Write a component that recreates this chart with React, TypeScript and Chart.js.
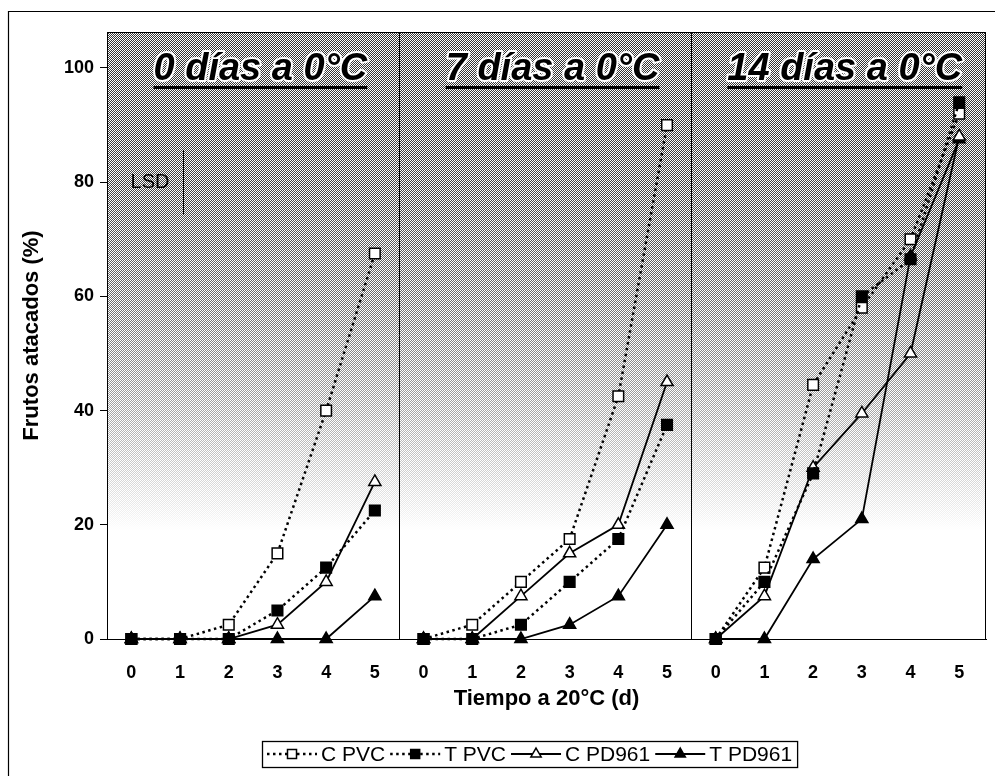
import React, { useEffect, useRef } from 'react';
import { Chart, registerables } from 'chart.js';

Chart.register(...registerables);

// ---------- data ----------
const dayTicks = ['0', '1', '2', '3', '4', '5'];
const panelTitles = ['0 días a 0°C', '7 días a 0°C', '14 días a 0°C'];
const seriesNames = ['C PVC', 'T PVC', 'C PD961', 'T PD961'];
const yTicks = [0, 20, 40, 60, 80, 100];

// values per panel (0, 7, 14 días a 0°C), days 0..5 at 20°C
const cPVC = [
  [0, 0, 2.5, 15, 40, 67.5],
  [0, 2.5, 10, 17.5, 42.5, 90],
  [0, 12.5, 44.5, 58, 70, 92],
];
const tPVC = [
  [0, 0, 0, 5, 12.5, 22.5],
  [0, 0, 2.5, 10, 17.5, 37.5],
  [0, 10, 29, 60, 66.5, 94],
];
const cPD961 = [
  [0, 0, 0, 2.5, 10, 27.5],
  [0, 0, 7.5, 15, 20, 45],
  [0, 7.5, 30, 39.5, 50, 88],
];
const tPD961 = [
  [0, 0, 0, 0, 0, 7.5],
  [0, 0, 0, 2.5, 7.5, 20],
  [0, 0, 14, 21, 67, 87.5],
];
const lsdCenter = 80;
const lsdValue = 11.3;

const FAMILY = '"Liberation Sans", Arial, Helvetica, sans-serif';
const N = dayTicks.length;

const toPoints = (panels: number[][]) =>
  panels.flatMap((vals, p) => {
    const pts: { x: number; y: number | null }[] = vals.map((v, i) => ({ x: p * N + i, y: v }));
    if (p < panels.length - 1) pts.push({ x: p * N + N - 0.5, y: null });
    return pts;
  });

function drawMarker(ctx: CanvasRenderingContext2D, style: string, x: number, y: number, r: number, fill: string) {
  ctx.save();
  ctx.setLineDash([]);
  ctx.beginPath();
  if (style === 'rect') {
    const s = Math.SQRT1_2 * r;
    ctx.rect(x - s, y - s, 2 * s, 2 * s);
  } else {
    ctx.moveTo(x, y - r);
    ctx.lineTo(x + r * Math.sin(2 * Math.PI / 3), y + r / 2);
    ctx.lineTo(x - r * Math.sin(2 * Math.PI / 3), y + r / 2);
    ctx.closePath();
  }
  ctx.fillStyle = fill;
  ctx.fill();
  ctx.lineWidth = 1.5;
  ctx.strokeStyle = '#000';
  ctx.stroke();
  ctx.restore();
}

const backgroundPlugin = {
  id: 'bgStipple',
  beforeDraw(chart: any) {
    const { ctx, chartArea: a } = chart;
    const ys = chart.scales.y;
    ctx.save();
    ctx.fillStyle = '#fff';
    ctx.fillRect(0, 0, chart.width, chart.height);
    const w = Math.round(a.right - a.left);
    const h = Math.round(a.bottom - a.top);
    const off = document.createElement('canvas');
    off.width = w;
    off.height = h;
    const oc = off.getContext('2d')!;
    const pat = document.createElement('canvas');
    pat.width = 2;
    pat.height = 2;
    const pc = pat.getContext('2d')!;
    pc.fillStyle = '#000';
    pc.fillRect(0, 0, 1, 1);
    pc.fillRect(1, 1, 1, 1);
    oc.fillStyle = oc.createPattern(pat, 'repeat')!;
    oc.fillRect(0, 0, w, h);
    oc.globalCompositeOperation = 'destination-in';
    const g = oc.createLinearGradient(0, 0, 0, h);
    const stop = (v: number, alpha: number) => {
      const f = (ys.getPixelForValue(v) - a.top) / h;
      g.addColorStop(Math.min(1, Math.max(0, f)), `rgba(0,0,0,${alpha})`);
    };
    stop(ys.max, 0.8);
    stop(80, 0.74);
    stop(60, 0.58);
    stop(42, 0.38);
    stop(30, 0.2);
    stop(19, 0.0);
    stop(0, 0.0);
    oc.fillStyle = g;
    oc.fillRect(0, 0, w, h);
    ctx.drawImage(off, Math.round(a.left), Math.round(a.top));

    // outer frame (extends beyond the picture at right/bottom)
    ctx.strokeStyle = '#000';
    ctx.lineWidth = 1.2;
    ctx.beginPath();
    ctx.moveTo(8.5, chart.height + 5);
    ctx.lineTo(8.5, 11.5);
    ctx.lineTo(chart.width + 5, 11.5);
    ctx.stroke();
    ctx.restore();
  },
  beforeDatasetsDraw(chart: any) {
    const { ctx, chartArea: a } = chart;
    const xs = chart.scales.x;
    const ys = chart.scales.y;
    ctx.save();
    ctx.strokeStyle = '#000';
    ctx.lineWidth = 1;
    // plot border top/right
    ctx.beginPath();
    ctx.moveTo(a.left, a.top + 0.5);
    ctx.lineTo(a.right - 0.5, a.top + 0.5);
    ctx.lineTo(a.right - 0.5, a.bottom);
    ctx.stroke();
    // panel dividers
    for (let p = 1; p < panelTitles.length; p++) {
      const px = Math.round(xs.getPixelForValue(p * N - 0.5)) + 0.5;
      ctx.beginPath();
      ctx.moveTo(px, a.top);
      ctx.lineTo(px, a.bottom);
      ctx.stroke();
    }
    // panel titles
    ctx.font = `italic bold 38px ${FAMILY}`;
    ctx.textAlign = 'center';
    ctx.textBaseline = 'alphabetic';
    ctx.lineJoin = 'round';
    panelTitles.forEach((t, p) => {
      const cx = xs.getPixelForValue(p * N + 2.65);
      const by = a.top + 48;
      ctx.lineWidth = 4;
      ctx.strokeStyle = '#fff';
      ctx.strokeText(t, cx, by);
      ctx.fillStyle = '#000';
      ctx.fillText(t, cx, by);
      const tw = ctx.measureText(t).width;
      ctx.fillRect(cx - tw / 2, by + 6, tw, 3);
    });
    // LSD bar
    const lx = Math.round(xs.getPixelForValue(1.07)) + 0.5;
    ctx.lineWidth = 1;
    ctx.strokeStyle = '#000';
    ctx.beginPath();
    ctx.moveTo(lx, ys.getPixelForValue(lsdCenter + lsdValue / 2));
    ctx.lineTo(lx, ys.getPixelForValue(lsdCenter - lsdValue / 2));
    ctx.stroke();
    ctx.font = `20px ${FAMILY}`;
    ctx.textAlign = 'right';
    ctx.textBaseline = 'middle';
    ctx.fillStyle = '#000';
    ctx.fillText('LSD', lx - 14, ys.getPixelForValue(lsdCenter));
    ctx.restore();
  },
};

const legendPlugin = {
  id: 'customLegend',
  afterDraw(chart: any) {
    const { ctx } = chart;
    const boxL = 262;
    const boxT = 741;
    const boxH = 26;
    const cy = boxT + boxH / 2;
    ctx.save();
    ctx.font = `21px ${FAMILY}`;
    ctx.textBaseline = 'middle';
    ctx.textAlign = 'left';
    let x = boxL + 5;
    const sampleW = 50;
    chart.data.datasets.forEach((ds: any) => {
      ctx.save();
      ctx.strokeStyle = '#000';
      ctx.lineWidth = ds.borderWidth;
      ctx.setLineDash(ds.borderDash || []);
      ctx.beginPath();
      ctx.moveTo(x, cy);
      ctx.lineTo(x + sampleW, cy);
      ctx.stroke();
      ctx.restore();
      drawMarker(ctx, ds.pointStyle, x + sampleW / 2, cy, ds.pointRadius * 0.85, ds.pointBackgroundColor);
      x += sampleW + 4;
      ctx.fillStyle = '#000';
      ctx.fillText(ds.label, x, cy + 1);
      x += ctx.measureText(ds.label).width + 5;
    });
    ctx.strokeStyle = '#000';
    ctx.lineWidth = 1.3;
    ctx.setLineDash([]);
    ctx.strokeRect(boxL + 0.5, boxT + 0.5, x - boxL, boxH);
    ctx.restore();
  },
};

export default function App() {
  const canvasRef = useRef<HTMLCanvasElement | null>(null);

  useEffect(() => {
    if (!canvasRef.current) return;
    Chart.defaults.font.family = FAMILY;
    const dotted = { borderWidth: 2.5, borderDash: [2.5, 3.5] };
    const solid = { borderWidth: 1.8, borderDash: [] as number[] };
    const common = {
      borderColor: '#000',
      pointBorderColor: '#000',
      pointBorderWidth: 1.5,
      tension: 0,
      clip: false as any,
      spanGaps: false,
      fill: false,
    };
    const chart = new Chart(canvasRef.current, {
      type: 'line',
      data: {
        datasets: [
          { ...common, ...dotted, label: seriesNames[0], data: toPoints(cPVC), pointStyle: 'rect', pointRadius: 7.5, pointBackgroundColor: '#fff', order: 0 },
          { ...common, ...dotted, label: seriesNames[1], data: toPoints(tPVC), pointStyle: 'rect', pointRadius: 7.5, pointBackgroundColor: '#000', order: -1 },
          { ...common, ...solid, label: seriesNames[2], data: toPoints(cPD961), pointStyle: 'triangle', pointRadius: 7, pointBackgroundColor: '#fff', order: 0 },
          { ...common, ...solid, label: seriesNames[3], data: toPoints(tPD961), pointStyle: 'triangle', pointRadius: 7, pointBackgroundColor: '#000', order: 0 },
        ] as any,
      },
      options: {
        responsive: false,
        animation: false,
        events: [],
        layout: { padding: { left: 0, top: 32, right: 8, bottom: 57 } },
        plugins: {
          legend: { display: false },
          tooltip: { enabled: false },
          title: { display: false },
        },
        scales: {
          x: {
            type: 'linear',
            min: -0.5,
            max: panelTitles.length * N - 0.45,
            afterBuildTicks: (s: any) => {
              s.ticks = Array.from({ length: panelTitles.length * N }, (_, i) => ({ value: i }));
            },
            afterFit: (s: any) => {
              s.height = 80;
            },
            grid: { display: false },
            border: { display: true, color: '#000', width: 1 },
            ticks: {
              padding: 15,
              autoSkip: false,
              maxRotation: 0,
              color: '#000',
              font: { size: 18, weight: 'bold', family: FAMILY },
              callback: (v: any) => dayTicks[Math.round(Number(v)) % N],
            },
            title: {
              display: true,
              text: 'Tiempo a 20°C (d)',
              color: '#000',
              font: { size: 22, weight: 'bold', family: FAMILY },
              padding: { top: 0, bottom: 7 },
            },
          },
          y: {
            type: 'linear',
            min: 0,
            max: 106.3,
            afterBuildTicks: (s: any) => {
              s.ticks = yTicks.map((v) => ({ value: v }));
            },
            afterFit: (s: any) => {
              s.width = 107;
            },
            grid: { display: true, drawOnChartArea: false, drawTicks: true, tickLength: 7, color: '#000', lineWidth: 1 },
            border: { display: true, color: '#000', width: 1 },
            ticks: {
              padding: 6,
              color: '#000',
              font: { size: 18, weight: 'bold', family: FAMILY },
            },
            title: {
              display: true,
              text: 'Frutos atacados (%)',
              color: '#000',
              font: { size: 22, weight: 'bold', family: FAMILY },
              padding: { top: 19, bottom: 0 },
            },
          },
        },
      } as any,
      plugins: [backgroundPlugin, legendPlugin],
    });
    return () => chart.destroy();
  }, []);

  return (
    <div style={{ position: 'absolute', left: 0, top: 0, width: 995, height: 776, background: '#fff' }}>
      <canvas ref={canvasRef} width={995} height={776} style={{ display: 'block' }} />
    </div>
  );
}
